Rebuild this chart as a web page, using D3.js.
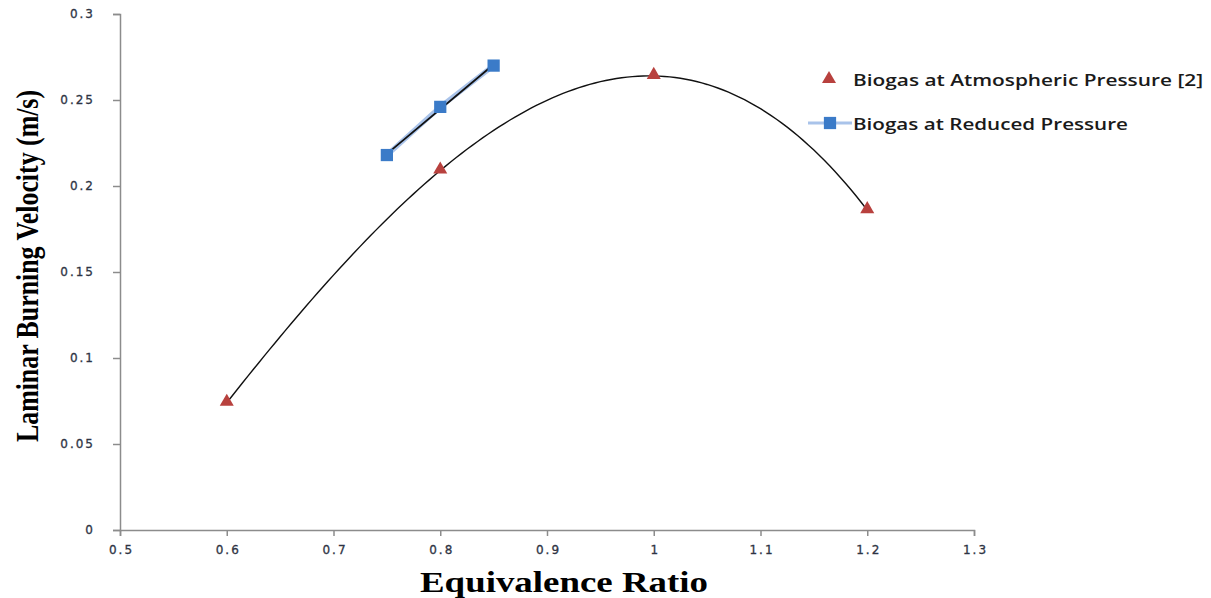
<!DOCTYPE html>
<html>
<head>
<meta charset="utf-8">
<script src="https://cdn.jsdelivr.net/npm/d3@7"></script>
<style>
  body { margin: 0; background: #fff; }
  svg { display: block; }
</style>
</head>
<body>
<svg class="graph"></svg>
<script>
const xTicks = [0.5, 0.6, 0.7, 0.8, 0.9, 1, 1.1, 1.2, 1.3];
const yTicks = [0, 0.05, 0.1, 0.15, 0.2, 0.25, 0.3];

const atmPhi = [0.6, 0.8, 1.0, 1.2];
const atmVel = [0.074, 0.209, 0.264, 0.186];
const redPhi = [0.75, 0.8, 0.85];
const redVel = [0.218, 0.246, 0.270];

const seriesNames = ['Biogas at Atmospheric Pressure [2]', 'Biogas at Reduced Pressure'];

const width = 1211;
const height = 598;
const margin = { top: 14, left: 120, right: 237, bottom: 68 };

const svg = d3.select('.graph')
  .attr('width', width)
  .attr('height', height);

const x = d3.scaleLinear().domain([0.5, 1.3]).range([margin.left, width - margin.right]);
const y = d3.scaleLinear().domain([0, 0.3]).range([height - margin.bottom, margin.top]);

const axisColor = '#8c8c8c';
const tickFont = '"DejaVu Sans", Verdana, sans-serif';

// y axis
const yAxis = svg.append('g')
  .attr('transform', `translate(${margin.left},0)`)
  .call(d3.axisLeft(y).tickValues(yTicks).tickSize(7).tickPadding(18).tickFormat(d => String(+d.toFixed(2))));
// x axis
const xAxis = svg.append('g')
  .attr('transform', `translate(0,${height - margin.bottom})`)
  .call(d3.axisBottom(x).tickValues(xTicks).tickSize(6).tickPadding(9).tickFormat(d => String(+d.toFixed(1))));

[yAxis, xAxis].forEach(a => {
  a.select('.domain').attr('stroke', axisColor).attr('stroke-width', 1.5);
  a.selectAll('.tick line').attr('stroke', axisColor).attr('stroke-width', 1.5);
  a.selectAll('.tick text')
    .attr('fill', '#2e3444')
    .attr('font-family', tickFont)
    .attr('font-size', '12px')
    .attr('stroke', '#2e3444')
    .attr('stroke-width', 0.3)
    .attr('letter-spacing', '2px');
});
// letter-spacing adds a gap after the last glyph; nudge centred x labels back
xAxis.selectAll('.tick text').attr('dx', '1px');

// cubic through the 4 atmospheric points (Excel order-3 trendline)
function lagrange(xs, ys, t) {
  let s = 0;
  for (let i = 0; i < xs.length; i++) {
    let p = ys[i];
    for (let j = 0; j < xs.length; j++) {
      if (j !== i) p *= (t - xs[j]) / (xs[i] - xs[j]);
    }
    s += p;
  }
  return s;
}
const curve = d3.range(0, 121).map(i => {
  const t = atmPhi[0] + (atmPhi[3] - atmPhi[0]) * i / 120;
  return [t, lagrange(atmPhi, atmVel, t)];
});

// linear fit for the reduced pressure series
const mx = d3.mean(redPhi), my = d3.mean(redVel);
const slope = d3.sum(redPhi, (v, i) => (v - mx) * (redVel[i] - my)) / d3.sum(redPhi, v => (v - mx) * (v - mx));
const fit = t => my + slope * (t - mx);

const line = d3.line().x(d => x(d[0])).y(d => y(d[1]));

// reduced series line (light blue)
svg.append('path')
  .datum(redPhi.map((v, i) => [v, redVel[i]]))
  .attr('d', line)
  .attr('fill', 'none')
  .attr('stroke', '#a9c3ea')
  .attr('stroke-width', 5);

// trendlines
svg.append('path')
  .datum(curve)
  .attr('d', line)
  .attr('fill', 'none')
  .attr('stroke', '#111')
  .attr('stroke-width', 1.4);

svg.append('path')
  .datum([[redPhi[0], fit(redPhi[0])], [redPhi[2], fit(redPhi[2])]])
  .attr('d', line)
  .attr('fill', 'none')
  .attr('stroke', '#111')
  .attr('stroke-width', 1.8);

const red = '#b8413e';
const blue = '#3b7bc8';
const tri = d3.symbol().type(d3.symbolTriangle).size(85);
const sq = d3.symbol().type(d3.symbolSquare).size(150);

svg.selectAll('.atm')
  .data(atmPhi)
  .enter()
  .append('path')
  .attr('class', 'atm')
  .attr('d', tri)
  .attr('transform', (d, i) => `translate(${x(d)},${y(atmVel[i]) - 1})`)
  .attr('fill', red);

svg.selectAll('.red')
  .data(redPhi)
  .enter()
  .append('path')
  .attr('class', 'red')
  .attr('d', sq)
  .attr('transform', (d, i) => `translate(${x(d)},${y(redVel[i])})`)
  .attr('fill', blue);

// legend
const legend = svg.append('g');
const legFont = '"Open Sans", Calibri, sans-serif';
const legWidths = [350, 275];
legend.append('path')
  .attr('d', tri)
  .attr('transform', 'translate(829,79)')
  .attr('fill', red);
legend.append('line')
  .attr('x1', 808).attr('x2', 852).attr('y1', 123).attr('y2', 123)
  .attr('stroke', '#a9c3ea').attr('stroke-width', 3);
legend.append('path')
  .attr('d', sq)
  .attr('transform', 'translate(830,123)')
  .attr('fill', blue);
legend.selectAll('text')
  .data(seriesNames)
  .enter()
  .append('text')
  .attr('x', 853)
  .attr('y', (d, i) => 80 + i * 44)
  .attr('dy', '0.35em')
  .attr('font-family', legFont)
  .attr('font-weight', 600)
  .attr('font-size', '17px')
  .attr('textLength', (d, i) => legWidths[i])
  .attr('lengthAdjust', 'spacingAndGlyphs')
  .attr('fill', '#1a1a1a')
  .text(d => d);

// axis titles
svg.append('text')
  .attr('x', 564)
  .attr('y', 592)
  .attr('text-anchor', 'middle')
  .attr('font-family', '"Liberation Serif", "Times New Roman", serif')
  .attr('font-weight', 'bold')
  .attr('font-size', '29px')
  .attr('textLength', 288)
  .attr('lengthAdjust', 'spacingAndGlyphs')
  .text('Equivalence Ratio');

svg.append('text')
  .attr('transform', 'translate(38,266) rotate(-90)')
  .attr('text-anchor', 'middle')
  .attr('font-family', '"Liberation Serif", "Times New Roman", serif')
  .attr('font-weight', 'bold')
  .attr('font-size', '32px')
  .attr('textLength', 352)
  .attr('lengthAdjust', 'spacingAndGlyphs')
  .text('Laminar Burning Velocity (m/s)');
</script>
</body>
</html>
